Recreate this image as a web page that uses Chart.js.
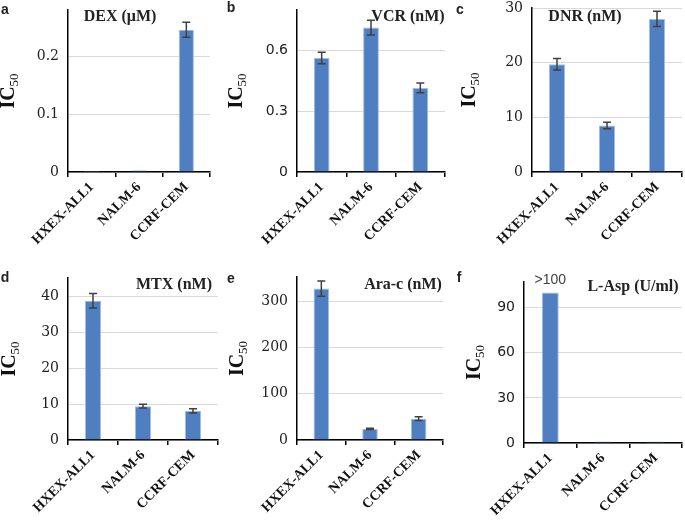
<!DOCTYPE html>
<html>
<head>
<meta charset="utf-8">
<script src="https://cdn.jsdelivr.net/npm/chart.js@4.4.1/dist/chart.umd.min.js"></script>
<style>
  body { margin: 0; background: #fff; width: 685px; height: 525px; overflow: hidden; position: relative; }
  canvas { position: absolute; }
  .lbl { position: absolute; transform: translate(-50%, -50%); white-space: nowrap; color: #222; }
  .letra { font: bold 14px "Liberation Sans", Arial, sans-serif; }
  .titulo { font: bold 16px "Liberation Serif", "Times New Roman", serif; }
</style>
</head>
<body>
<canvas id="pA"></canvas>
<canvas id="pB"></canvas>
<canvas id="pC"></canvas>
<canvas id="pD"></canvas>
<canvas id="pE"></canvas>
<canvas id="pF"></canvas>
<script>
// dados
const categorias = ['HXEX-ALL1', 'NALM-6', 'CCRF-CEM'];

const dexValores = [0.002, 0.003, 0.246];
const dexErros = [0, 0, 0.013];
const dexTicks = [0, 0.1, 0.2];

const vcrValores = [0.563, 0.713, 0.415];
const vcrErros = [0.028, 0.036, 0.024];
const vcrTicks = [0, 0.3, 0.6];

const dnrValores = [19.7, 8.5, 28.0];
const dnrErros = [1.05, 0.6, 1.4];
const dnrTicks = [0, 10, 20, 30];

const mtxValores = [38.7, 9.4, 8.1];
const mtxErros = [2.0, 0.5, 0.6];
const mtxTicks = [0, 10, 20, 30, 40];

const aracValores = [327, 24, 46];
const aracErros = [16.5, 1.5, 4];
const aracTicks = [0, 100, 200, 300];

const laspValores = [100, 1.0, 1.0];
const laspErros = [0, 0, 0];
const laspTicks = [0, 30, 60, 90];

// layout de cada painel: area do grafico (esq, topo, dir, base)
const paineis = [
  { id: 'pA', letra: 'a', titulo: 'DEX (\u03BCM)', area: [68, 10, 210, 172], max: 0.28, valores: dexValores, erros: dexErros, ticks: dexTicks, serif: true, offIC: 59, tit: [120, 16], let: [5, 9] },
  { id: 'pB', letra: 'b', titulo: 'VCR (nM)', area: [297, 10, 445, 172], max: 0.8, valores: vcrValores, erros: vcrErros, ticks: vcrTicks, serif: false, offIC: 60, tit: [408, 16], let: [231, 7] },
  { id: 'pC', letra: 'c', titulo: 'DNR (nM)', area: [532, 8, 682, 172], max: 30, valores: dnrValores, erros: dnrErros, ticks: dnrTicks, serif: true, offIC: 62, tit: [585, 16], let: [460, 9] },
  { id: 'pD', letra: 'd', titulo: 'MTX (nM)', area: [68, 278, 218, 440], max: 45, valores: mtxValores, erros: mtxErros, ticks: mtxTicks, serif: true, offIC: 58, tit: [174, 284], let: [5, 277] },
  { id: 'pE', letra: 'e', titulo: 'Ara-c (nM)', area: [297, 277, 443, 440], max: 352, valores: aracValores, erros: aracErros, ticks: aracTicks, serif: true, offIC: 59, tit: [403, 284], let: [231, 278] },
  { id: 'pF', letra: 'f', titulo: 'L-Asp (U/ml)', area: [524, 282, 682, 443], max: 107, valores: laspValores, erros: laspErros, ticks: laspTicks, serif: false, offIC: 49, tit: [633, 286], let: [459, 277], topo: { indice: 0, texto: '>100' } }
];

const LARG_Y = 75;
const PAD_TOPO = 10;
const PAD_DIR = 3;
const ALT_X = 90;

const pluginExtras = {
  id: 'extras',
  afterDatasetsDraw(chart, args, opts) {
    const ctx = chart.ctx;
    const escalaY = chart.scales.y;
    const meta = chart.getDatasetMeta(0);
    ctx.save();
    ctx.strokeStyle = '#404040';
    ctx.lineWidth = 1.5;
    opts.erros.forEach((e, i) => {
      if (!e) return;
      const v = opts.valores[i];
      const x = meta.data[i].x;
      const y1 = escalaY.getPixelForValue(v + e);
      const y2 = escalaY.getPixelForValue(v - e);
      ctx.beginPath();
      ctx.moveTo(x, y1); ctx.lineTo(x, y2);
      ctx.moveTo(x - 4, y1); ctx.lineTo(x + 4, y1);
      ctx.moveTo(x - 4, y2); ctx.lineTo(x + 4, y2);
      ctx.stroke();
    });
    if (opts.topo) {
      const barra = meta.data[opts.topo.indice];
      ctx.fillStyle = '#404040';
      ctx.font = '14px "Liberation Sans", Arial, sans-serif';
      ctx.textAlign = 'center';
      ctx.textBaseline = 'middle';
      ctx.fillText(opts.topo.texto, barra.x, barra.y - 12);
    }
    // titulo do eixo y: IC com subscrito 50
    const area = chart.chartArea;
    ctx.translate(area.left - opts.offIC, (area.top + area.bottom) / 2);
    ctx.rotate(-Math.PI / 2);
    ctx.fillStyle = '#111';
    ctx.textBaseline = 'middle';
    ctx.textAlign = 'left';
    ctx.font = 'bold 20px "Liberation Serif", "Times New Roman", serif';
    const wIC = ctx.measureText('IC').width;
    ctx.font = '13px "Liberation Serif", "Times New Roman", serif';
    const wSub = ctx.measureText('50').width;
    const x0 = -(wIC + wSub) / 2;
    ctx.font = 'bold 20px "Liberation Serif", "Times New Roman", serif';
    ctx.fillText('IC', x0, 0);
    ctx.font = '13px "Liberation Serif", "Times New Roman", serif';
    ctx.fillText('50', x0 + wIC, 6);
    ctx.restore();
  }
};

function criarPainel(p) {
  const [esq, topo, dir, base] = p.area;
  const canvas = document.getElementById(p.id);
  const w = LARG_Y + (dir - esq) + PAD_DIR;
  const h = PAD_TOPO + (base - topo) + ALT_X;
  canvas.width = w; canvas.height = h;
  canvas.style.width = w + 'px'; canvas.style.height = h + 'px';
  canvas.style.left = (esq - LARG_Y) + 'px';
  canvas.style.top = (topo - PAD_TOPO) + 'px';

  const fonteTicks = p.serif
    ? { family: '"DejaVu Serif", serif', size: 14 }
    : { family: '"DejaVu Sans", sans-serif', size: 14 };

  new Chart(canvas, {
    type: 'bar',
    data: {
      labels: categorias,
      datasets: [{
        data: p.valores,
        backgroundColor: '#4f7fc0',
        borderColor: '#9dbde6',
        borderWidth: 1,
        barPercentage: 0.32,
        categoryPercentage: 1
      }]
    },
    options: {
      responsive: false,
      animation: false,
      devicePixelRatio: 1,
      layout: { padding: { top: PAD_TOPO, right: PAD_DIR, left: 0, bottom: 0 } },
      plugins: {
        legend: { display: false },
        tooltip: { enabled: false },
        extras: { valores: p.valores, erros: p.erros, offIC: p.offIC, topo: p.topo }
      },
      scales: {
        x: {
          offset: true,
          border: { color: '#000', width: 1.5 },
          grid: { display: true, offset: true, drawOnChartArea: false, drawTicks: true, tickLength: 5, color: '#000', lineWidth: 1.5 },
          ticks: {
            autoSkip: false, minRotation: 45, maxRotation: 45, padding: 2,
            color: '#111',
            font: { family: '"Liberation Serif", "Times New Roman", serif', size: 14, weight: 'bold' }
          },
          afterFit(scale) {
            scale.height = ALT_X;
            scale.paddingLeft = 0; scale.paddingRight = 0;
          }
        },
        y: {
          min: 0,
          max: p.max,
          border: { color: '#000', width: 1.5 },
          grid: { color: '#d9d9d9', lineWidth: 1, drawTicks: false },
          ticks: { padding: 9, color: '#222', font: fonteTicks },
          afterBuildTicks(scale) {
            scale.ticks = p.ticks.map(v => ({ value: v }));
          },
          afterFit(scale) {
            scale.width = LARG_Y;
            scale.paddingTop = 0; scale.paddingBottom = 0;
          }
        }
      }
    },
    plugins: [pluginExtras]
  });

  const letra = document.createElement('div');
  letra.className = 'lbl letra';
  letra.textContent = p.letra;
  letra.style.left = p.let[0] + 'px';
  letra.style.top = p.let[1] + 'px';
  document.body.appendChild(letra);

  const titulo = document.createElement('div');
  titulo.className = 'lbl titulo';
  titulo.textContent = p.titulo;
  titulo.style.left = p.tit[0] + 'px';
  titulo.style.top = p.tit[1] + 'px';
  document.body.appendChild(titulo);
}

paineis.forEach(criarPainel);
</script>
</body>
</html>
